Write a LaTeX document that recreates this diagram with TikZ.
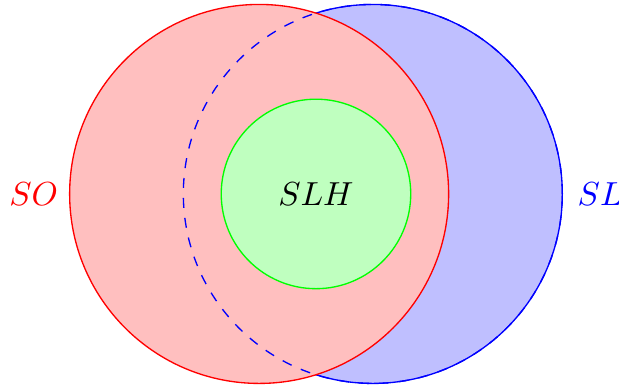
\documentclass[tikz,border=0pt]{standalone}
\begin{document}
\begin{tikzpicture}[x=1cm,y=1cm,
  lbl/.style={inner sep=0pt}]
\useasboundingbox (-3.335,-2.026) rectangle (3.198,2.047);
\fill[blue!25] (0.6,0) circle (2);
\draw[blue] (0.6,0) circle (2);
\fill[red!25] (-0.6,0) circle (2);
\draw[red] (-0.6,0) circle (2);
\draw[blue,dashed] (0.6,0) circle (2);
\draw[green,fill=green!25] (0,0) circle (1);
\node[lbl,text=red] (so) at (-2.98,0) {$SO$};
\node[lbl,text=blue] (sl) at (3.0,0) {$SL$};
\node[lbl] (slh) at (0,0) {$SLH$};
\end{tikzpicture}
\end{document}
